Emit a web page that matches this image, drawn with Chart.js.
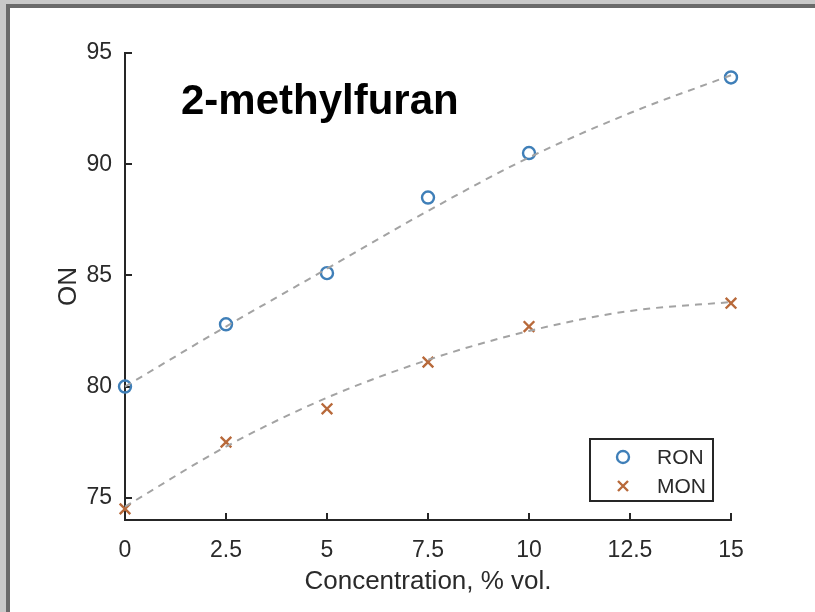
<!DOCTYPE html>
<html>
<head>
<meta charset="utf-8">
<script src="https://cdn.jsdelivr.net/npm/chart.js@4.4.1/dist/chart.umd.min.js"></script>
<style>
  html, body { margin: 0; padding: 0; }
  body { width: 815px; height: 612px; background: #c9c9c9; position: relative; overflow: hidden; }
  #frame { position: absolute; left: 6px; top: 4px; right: 0; bottom: 0; background: #fff;
           border-left: 4px solid #6a6a6a; border-top: 4px solid #6a6a6a; }
  #wrap { position: absolute; left: 0; top: 0; width: 815px; height: 612px; }
</style>
</head>
<body>
<div id="frame"></div>
<div id="wrap"><canvas id="c" width="815" height="612"></canvas></div>
<script>
// ---- data ----
const xTickValues = [0, 2.5, 5, 7.5, 10, 12.5, 15];
const yTickValues = [75, 80, 85, 90, 95];
const concentration = [0, 2.5, 5, 7.5, 10, 15];
const ronValues = [80.0, 82.8, 85.1, 88.5, 90.5, 93.9];
const monValues = [74.5, 77.5, 79.0, 81.1, 82.7, 83.75];
const fitX = [0, 2.5, 5, 7.5, 10, 12.5, 15];
const ronFit = [80.0, 82.7, 85.3, 87.9, 90.3, 92.3, 94.0];
const monFit = [74.6, 77.3, 79.5, 81.2, 82.5, 83.4, 83.8];
const seriesNames = ['RON', 'MON'];
const chartTitle = '2-methylfuran';
const xTitle = 'Concentration, % vol.';
const yTitle = 'ON';

const blue = '#3f7fb8';
const orange = '#b8693a';
const axisColor = '#262626';
const textColor = '#2a2a2a';
const fitColor = '#a3a3a3';
const FONT = '"Liberation Sans", Arial, sans-serif';

const pts = (xs, ys) => xs.map((x, i) => ({ x, y: ys[i] }));

const insidePlugin = {
  id: 'inside',
  beforeDatasetsDraw(chart) {
    const ctx = chart.ctx;
    const xs = chart.scales.x, ys = chart.scales.y;
    const a = chart.chartArea;
    ctx.save();
    ctx.strokeStyle = axisColor;
    ctx.lineWidth = 2;
    ctx.beginPath();
    xTickValues.forEach(v => {
      const px = Math.round(xs.getPixelForValue(v));
      ctx.moveTo(px, a.bottom); ctx.lineTo(px, a.bottom - 7);
    });
    yTickValues.forEach(v => {
      const py = Math.round(ys.getPixelForValue(v));
      ctx.moveTo(a.left, py); ctx.lineTo(a.left + 7, py);
    });
    ctx.stroke();
    ctx.restore();
  },
  afterDraw(chart) {
    const ctx = chart.ctx;
    const a = chart.chartArea;
    ctx.save();
    // title inside plot
    ctx.fillStyle = '#000';
    ctx.font = 'bold 42px ' + FONT;
    ctx.textBaseline = 'alphabetic';
    ctx.textAlign = 'left';
    ctx.fillText(chartTitle, a.left + 56, a.top + 61);
    // legend box
    const bx = a.right - 141, by = a.bottom - 81, bw = 123, bh = 62;
    ctx.fillStyle = '#fff';
    ctx.fillRect(bx, by, bw, bh);
    ctx.strokeStyle = axisColor;
    ctx.lineWidth = 2;
    ctx.strokeRect(bx, by, bw, bh);
    const rows = [by + 18, by + 47];
    // RON marker
    ctx.strokeStyle = blue; ctx.lineWidth = 2.4;
    ctx.beginPath(); ctx.arc(bx + 33, rows[0], 6, 0, Math.PI * 2); ctx.stroke();
    // MON marker
    ctx.strokeStyle = orange;
    ctx.beginPath();
    ctx.moveTo(bx + 28, rows[1] - 5); ctx.lineTo(bx + 38, rows[1] + 5);
    ctx.moveTo(bx + 38, rows[1] - 5); ctx.lineTo(bx + 28, rows[1] + 5);
    ctx.stroke();
    ctx.fillStyle = textColor;
    ctx.font = '21px ' + FONT;
    ctx.textBaseline = 'middle';
    ctx.fillText(seriesNames[0], bx + 67, rows[0] + 1);
    ctx.fillText(seriesNames[1], bx + 67, rows[1] + 1);
    ctx.restore();
  }
};

new Chart(document.getElementById('c'), {
  type: 'scatter',
  data: {
    datasets: [
      { label: 'RON fit', data: pts(fitX, ronFit), showLine: true, borderColor: fitColor,
        borderWidth: 2, borderDash: [7, 6], pointRadius: 0, cubicInterpolationMode: 'monotone', clip: false },
      { label: 'MON fit', data: pts(fitX, monFit), showLine: true, borderColor: fitColor,
        borderWidth: 2, borderDash: [7, 6], pointRadius: 0, cubicInterpolationMode: 'monotone', clip: false },
      { label: seriesNames[0], data: pts(concentration, ronValues), pointStyle: 'circle',
        pointRadius: 6, borderColor: blue, backgroundColor: 'rgba(0,0,0,0)', pointBorderWidth: 2.4, clip: false },
      { label: seriesNames[1], data: pts(concentration, monValues), pointStyle: 'crossRot',
        pointRadius: 7.5, borderColor: orange, pointBorderWidth: 2.4, clip: false }
    ]
  },
  options: {
    responsive: false,
    animation: false,
    events: [],
    layout: { padding: { left: 52, top: 53, right: 84, bottom: 0 } },
    plugins: { legend: { display: false }, tooltip: { enabled: false }, title: { display: false } },
    scales: {
      x: {
        type: 'linear', min: 0, max: 15,
        afterBuildTicks: s => { s.ticks = xTickValues.map(v => ({ value: v })); },
        afterFit: s => { s.height = 92; },
        grid: { display: false },
        border: { display: true, color: axisColor, width: 2 },
        ticks: { color: textColor, font: { family: FONT, size: 23 }, padding: 9, maxRotation: 0,
                 callback: v => String(v) },
        title: { display: true, text: xTitle, color: textColor, font: { family: FONT, size: 26 },
                 padding: { top: 0, bottom: 15 } }
      },
      y: {
        type: 'linear', min: 74, max: 95,
        afterBuildTicks: s => { s.ticks = yTickValues.map(v => ({ value: v })); },
        afterFit: s => { s.width = 73; },
        grid: { display: false },
        border: { display: true, color: axisColor, width: 2 },
        ticks: { color: textColor, font: { family: FONT, size: 23 }, padding: 5, callback: v => String(v) },
        title: { display: true, text: yTitle, color: textColor, font: { family: FONT, size: 26 },
                 padding: { top: 1, bottom: 0 } }
      }
    }
  },
  plugins: [insidePlugin]
});
</script>
</body>
</html>
